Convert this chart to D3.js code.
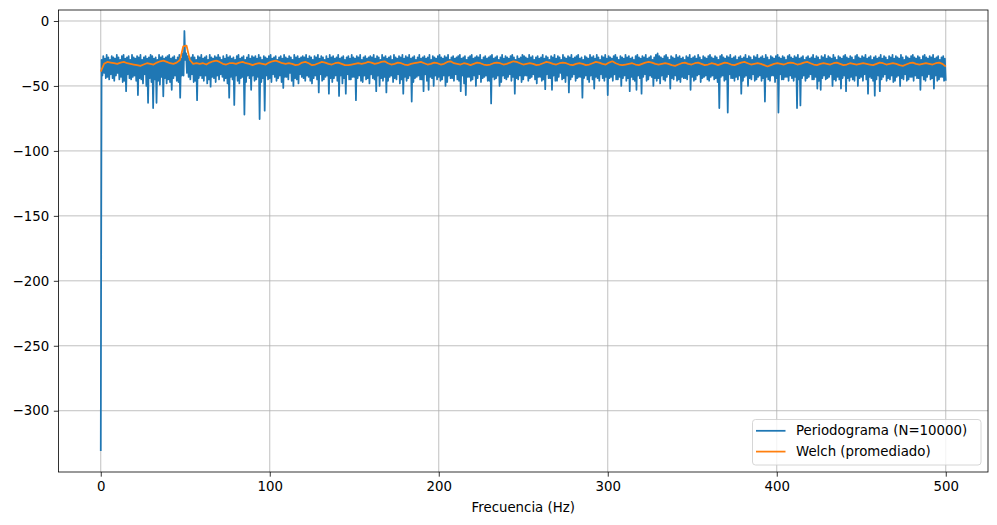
<!DOCTYPE html>
<html>
<head>
<meta charset="utf-8">
<script src="https://cdn.jsdelivr.net/npm/d3@7"></script>
<style>
  html, body { margin: 0; padding: 0; background: #fff; }
  svg { display: block; font-family: "DejaVu Sans", sans-serif; }
</style>
</head>
<body>
<svg id="chart" width="997" height="525"></svg>
<script>
// ---- Data ----
// Periodogram (N=10000): per 1-Hz bin, the lowest value (at f = i Hz) in dB
const periodogramMinDb = [
  -331, -42, -40, -44, -43, -45, -41, -44, -46, -42,
  -40, -45, -43, -47, -46, -54, -41, -44, -45, -43,
  -42, -46, -57, -44, -45, -48, -41, -50, -63, -44,
  -47, -67, -45, -63, -46, -49, -43, -58, -44, -48,
  -45, -47, -53, -44, -42, -46, -47, -59, -42, -42,
  -30, -40, -43, -45, -41, -47, -46, -61, -44, -42,
  -44, -46, -42, -48, -45, -50.5, -43, -44, -47, -42,
  -45, -41, -43, -46, -44, -48, -59, -43, -45, -64.6,
  -42, -46, -48, -44, -43, -72, -47, -42, -44, -53,
  -42, -46, -45, -43, -75.5, -47, -44, -69, -42, -45,
  -44, -47, -41, -43, -46, -44, -42, -47, -51.5, -43,
  -43, -45, -40, -46, -50, -44, -45, -48, -41, -43,
  -44, -46, -42, -43, -46, -48, -44, -42, -45, -55,
  -41, -46, -45, -43, -42, -56, -44, -47, -44, -42,
  -46, -57.7, -42, -48, -44, -56, -41, -45, -45, -43,
  -43, -61, -44, -42, -46, -47, -42, -45, -44, -48,
  -41, -44, -45, -54, -42, -50, -44, -46, -43, -55,
  -46, -43, -42, -47, -44, -45, -41, -48, -45, -56,
  -43, -46, -44, -42, -62, -47, -44, -43, -42, -45,
  -45, -54, -41, -46, -53, -43, -44, -50, -42, -45,
  -43, -46, -45, -42, -50, -47, -42, -44, -44, -46,
  -41, -45, -46, -54, -42, -48, -57, -43, -43, -46,
  -45, -42, -50, -44, -41, -47, -44, -43, -42, -46,
  -46, -63.5, -43, -45, -44, -42, -50, -47, -42, -44,
  -45, -43, -41, -46, -43, -56, -44, -45, -42, -47,
  -45, -42, -42, -46, -44, -43, -41, -45, -48, -43,
  -43, -46, -45, -52.5, -41, -44, -44, -53, -42, -46,
  -46, -43, -40, -45, -44, -47, -42, -55, -45, -43,
  -41, -46, -44, -43, -43, -59, -44, -42, -45, -47,
  -42, -45, -52, -43, -44, -46, -41, -44, -46, -43,
  -57, -44, -43, -46, -41, -45, -45, -43, -50, -44,
  -42, -46, -44, -54, -43, -45, -46, -53, -42, -44,
  -56, -43, -41, -46, -45, -42, -43, -50, -44, -46,
  -44, -48, -42, -45, -46, -43, -41, -52, -44, -45,
  -42, -46, -45, -47, -43, -44, -44, -45, -41, -53,
  -43, -46, -45, -42, -41, -47, -44, -43, -42, -45,
  -46, -43, -42, -45, -44, -47, -67, -43, -42, -46,
  -45, -70.5, -41, -44, -44, -46, -43, -45, -42, -56,
  -46, -43, -42, -50, -44, -45, -41, -46, -45, -43,
  -42, -46, -44, -62, -43, -45, -46, -42, -42, -47,
  -44, -70.5, -41, -45, -45, -43, -43, -46, -42, -44,
  -46, -43, -67, -45, -65, -44, -42, -46, -44, -43,
  -41, -45, -45, -43, -52, -46, -53, -44, -42, -45,
  -44, -43, -41, -50, -45, -46, -43, -45, -52, -44,
  -42, -54, -44, -46, -43, -45, -46, -42, -50, -44,
  -43, -46, -41, -45, -56, -43, -44, -46, -57.5, -45,
  -42, -54, -45, -43, -41, -46, -44, -45, -42, -47,
  -46, -43, -42, -50, -44, -45, -41, -46, -45, -43,
  -43, -46, -42, -44, -44, -53, -42, -45, -46, -43,
  -41, -45, -44, -52, -42, -46, -45, -43, -43, -46,
  -46
];
// Periodogram (N=10000): per 1-Hz bin, the highest value (at f = i + 0.5 Hz) in dB
const periodogramMaxDb = [
  -30, -27, -29, -26, -28, -30, -27, -28, -29, -26,
  -28, -30, -27, -26, -29, -28, -27, -30, -26, -28,
  -29, -27, -28, -26, -30, -28, -27, -29, -28, -26,
  -27, -29, -28, -30, -26, -28, -27, -29, -28, -27,
  -26, -29, -28, -27, -30, -28, -26, -29, -25, -7.7,
  -25, -27, -29, -28, -26, -28, -30, -27, -28, -26,
  -29, -28, -27, -30, -26, -28, -29, -27, -28, -26,
  -28, -30, -27, -29, -26, -28, -27, -29, -28, -30,
  -27, -26, -29, -28, -27, -30, -28, -26, -29, -27,
  -28, -27, -29, -26, -28, -30, -27, -28, -29, -27,
  -26, -29, -28, -27, -30, -28, -27, -29, -26, -28,
  -29, -27, -28, -30, -26, -28, -27, -29, -28, -27,
  -28, -26, -29, -27, -28, -30, -27, -28, -26, -29,
  -27, -28, -30, -27, -29, -26, -28, -27, -29, -28,
  -26, -29, -28, -27, -30, -28, -27, -29, -26, -28,
  -29, -27, -28, -26, -30, -28, -27, -29, -28, -27,
  -28, -26, -29, -27, -28, -30, -26, -28, -27, -29,
  -28, -27, -30, -26, -28, -29, -27, -28, -26, -29,
  -27, -28, -26, -29, -28, -27, -30, -28, -26, -29,
  -28, -27, -29, -28, -26, -30, -27, -28, -29, -27,
  -26, -28, -29, -27, -28, -26, -30, -28, -27, -29,
  -28, -27, -26, -29, -28, -27, -30, -28, -27, -26,
  -29, -28, -27, -28, -26, -30, -28, -27, -29, -28,
  -27, -26, -29, -28, -27, -30, -28, -26, -29, -27,
  -28, -29, -27, -26, -28, -30, -27, -29, -28, -26,
  -27, -28, -29, -26, -28, -27, -30, -28, -27, -29,
  -28, -26, -29, -27, -28, -30, -27, -28, -26, -29,
  -27, -28, -30, -26, -28, -29, -27, -28, -26, -29,
  -28, -27, -26, -29, -28, -30, -27, -28, -29, -26,
  -28, -27, -29, -26, -28, -30, -27, -28, -26, -29,
  -27, -28, -29, -27, -26, -28, -30, -27, -28, -29,
  -26, -28, -27, -29, -28, -30, -27, -26, -28, -29,
  -27, -28, -26, -29, -28, -27, -30, -28, -26, -25,
  -27, -28, -29, -27, -26, -28, -30, -27, -28, -29,
  -26, -28, -27, -29, -28, -30, -27, -28, -26, -29,
  -28, -27, -29, -26, -28, -30, -27, -28, -29, -27,
  -26, -28, -29, -27, -28, -30, -27, -26, -28, -29,
  -27, -28, -26, -29, -28, -27, -30, -28, -27, -29,
  -28, -26, -29, -27, -28, -30, -27, -28, -26, -29,
  -28, -27, -29, -26, -28, -30, -27, -28, -29, -27,
  -26, -28, -29, -27, -28, -30, -27, -26, -28, -29,
  -27, -28, -26, -29, -28, -27, -30, -28, -27, -29,
  -28, -26, -29, -27, -28, -30, -27, -28, -26, -29,
  -27, -28, -29, -26, -28, -30, -27, -28, -29, -27,
  -26, -28, -29, -27, -28, -30, -27, -26, -28, -29,
  -27, -28, -26, -29, -28, -27, -30, -28, -27, -29,
  -28, -26, -29, -27, -28, -30, -27, -28, -26, -29,
  -27, -28, -29, -26, -28, -30, -27, -28, -29, -27,
  -26, -28, -29, -27, -28, -30, -27, -26, -28, -29,
  -27, -28, -26, -29, -28, -27, -30, -28, -27, -29
];

// Welch (averaged), bins of 1000/512 Hz from 0 to 500 Hz, in dB
const welchStepHz = 1000 / 512;
const welchDb = [
  -39, -33, -31.5, -32, -32.5, -33, -32, -31.5, -32.5, -33,
  -33.5, -34, -34.5, -33.5, -32.5, -33, -33.5, -32, -31, -30.5,
  -31.5, -32.5, -33, -32, -30, -19.5, -19, -30, -33, -32.5,
  -33, -32.5, -33.5, -32, -31, -30.5, -31.5, -33, -33.5, -32.5,
  -32.5, -33, -32, -31.5, -32.5, -33, -34, -33, -32.5, -33,
  -33.5, -32, -31, -30.5, -31.5, -32.5, -33, -32.5, -33, -34,
  -33.5, -32, -31.5, -32.5, -34, -33.5, -32.5, -31.5, -32, -33,
  -33.5, -32.5, -32, -33, -34, -34, -33.5, -33, -32.5, -33,
  -32.5, -31.5, -32, -33, -32.5, -31.5, -31, -32.5, -33.5, -33,
  -32, -32.5, -33.5, -34, -33, -32.5, -32, -31.5, -32.5, -33.5,
  -33, -32, -32.5, -33.5, -33, -31.5, -31, -32.5, -33, -33.5,
  -32.5, -33, -34, -33, -32, -32.5, -33.5, -34, -33.5, -32.5,
  -32, -32.5, -33.5, -33, -32, -31, -31.5, -32.5, -33.5, -33,
  -32.5, -33, -34, -33.5, -32.5, -31.5, -32, -33, -33.5, -32.5,
  -32, -32.5, -33.5, -34, -33, -32.5, -33, -34, -33.5, -32.5,
  -31.5, -32, -33, -33.5, -32, -31, -32.5, -33.5, -34, -33.5,
  -33, -32.5, -33.5, -34, -33, -32, -31.5, -32, -33, -33.5,
  -33, -32.5, -33, -34, -34.5, -33.5, -32.5, -32, -33, -33.5,
  -32.5, -32, -33, -34, -33.5, -32.5, -33, -34, -33, -32,
  -32.5, -33.5, -34, -33, -32, -31.5, -32.5, -33.5, -33, -32.5,
  -33, -34, -35, -34, -33, -32.5, -33, -33.5, -32.5, -32,
  -32.5, -33.5, -33, -32, -31.5, -32.5, -33.5, -34, -33, -32.5,
  -33, -33.5, -32.5, -32, -33, -34, -33.5, -32.5, -33, -33.5,
  -33, -32.5, -33, -33.5, -34, -33, -32, -32.5, -33.5, -33,
  -32.5, -33, -34, -34.5, -33.5, -32.5, -32, -33, -33.5, -33,
  -32.5, -33, -33.5, -32.5, -32, -33, -35
];

const xTicks = [0, 100, 200, 300, 400, 500];
const yTicks = [0, -50, -100, -150, -200, -250, -300];
const seriesNames = ["Periodograma (N=10000)", "Welch (promediado)"];
const xLabel = "Frecuencia (Hz)";

// ---- Layout ----
const W = 997, H = 525;
const m = { left: 58.5, right: 9, top: 10, bottom: 53 };
const pw = W - m.left - m.right, ph = H - m.top - m.bottom;
const colors = ["#1f77b4", "#ff7f0e"];
const lw = 1.75;

// Periodogram path: lowest value of each bin at i Hz, highest at i + 0.5 Hz
const perio = [];
periodogramMinDb.forEach((v, i) => {
  perio.push({ f: i, v });
  if (i < periodogramMaxDb.length) perio.push({ f: i + 0.5, v: periodogramMaxDb[i] });
});
const welch = welchDb.map((v, i) => ({ f: i * welchStepHz, v }));

const all = perio.concat(welch);
const [xmin, xmax] = d3.extent(all, d => d.f);
const [ymin, ymax] = d3.extent(all, d => d.v);
const xpad = (xmax - xmin) * 0.05, ypad = (ymax - ymin) * 0.05;

const x = d3.scaleLinear().domain([xmin - xpad, xmax + xpad]).range([m.left, m.left + pw]);
const y = d3.scaleLinear().domain([ymin - ypad, ymax + ypad]).range([m.top + ph, m.top]);

const svg = d3.select("#chart");

svg.append("defs").append("clipPath").attr("id", "clip")
  .append("rect").attr("x", m.left).attr("y", m.top).attr("width", pw).attr("height", ph);

// Grid
const grid = svg.append("g").attr("stroke", "#b0b0b0").attr("stroke-width", 0.8);
grid.selectAll("line.gx").data(xTicks).join("line").attr("class", "gx")
  .attr("x1", d => x(d)).attr("x2", d => x(d)).attr("y1", m.top).attr("y2", m.top + ph);
grid.selectAll("line.gy").data(yTicks).join("line").attr("class", "gy")
  .attr("y1", d => y(d)).attr("y2", d => y(d)).attr("x1", m.left).attr("x2", m.left + pw);

// Lines
const line = d3.line().x(d => x(d.f)).y(d => y(d.v));
const plot = svg.append("g").attr("clip-path", "url(#clip)");
plot.append("path").datum(perio).attr("d", line)
  .attr("fill", "none").attr("stroke", colors[0]).attr("stroke-width", lw)
  .attr("stroke-linejoin", "round");
plot.append("path").datum(welch).attr("d", line)
  .attr("fill", "none").attr("stroke", colors[1]).attr("stroke-width", lw)
  .attr("stroke-linejoin", "round");

// Axes
const fmt = d => d < 0 ? "\u2212" + Math.abs(d) : String(d);
const xAxis = d3.axisBottom(x).tickValues(xTicks).tickFormat(fmt).tickSizeOuter(0).tickSize(4.67).tickPadding(4.67);
const yAxis = d3.axisLeft(y).tickValues(yTicks).tickFormat(fmt).tickSizeOuter(0).tickSize(4.67).tickPadding(4.67);

const gx = svg.append("g").attr("transform", `translate(0,${m.top + ph})`).call(xAxis);
const gy = svg.append("g").attr("transform", `translate(${m.left},0)`).call(yAxis);
[gx, gy].forEach(g => {
  g.select(".domain").remove();
  g.selectAll(".tick line").attr("stroke", "#000").attr("stroke-width", 0.8);
  g.selectAll(".tick text").attr("fill", "#000").attr("font-size", "13.33px")
    .attr("font-family", "DejaVu Sans, sans-serif");
});

// Frame
svg.append("rect").attr("x", m.left).attr("y", m.top).attr("width", pw).attr("height", ph)
  .attr("fill", "none").attr("stroke", "#000").attr("stroke-width", 0.8);

// X label
svg.append("text").attr("x", m.left + pw / 2).attr("y", 512)
  .attr("text-anchor", "middle").attr("font-size", "13.33px").attr("fill", "#000")
  .text(xLabel);

// Legend
const lg = svg.append("g");
const lgX = 752.5, lgY = 419.5, lgW = 228.5, lgH = 45.5;
lg.append("rect").attr("x", lgX).attr("y", lgY).attr("width", lgW).attr("height", lgH)
  .attr("rx", 3).attr("ry", 3)
  .attr("fill", "#fff").attr("fill-opacity", 0.8).attr("stroke", "#cccccc").attr("stroke-width", 0.8);
seriesNames.forEach((name, i) => {
  const cy = 430.8 + i * 20.8;
  lg.append("line").attr("x1", 756).attr("x2", 785.5).attr("y1", cy).attr("y2", cy)
    .attr("stroke", colors[i]).attr("stroke-width", lw);
  lg.append("text").attr("x", 796).attr("y", cy).attr("dy", "0.35em")
    .attr("font-size", "13.33px").attr("fill", "#000").text(name);
});
</script>
</body>
</html>
